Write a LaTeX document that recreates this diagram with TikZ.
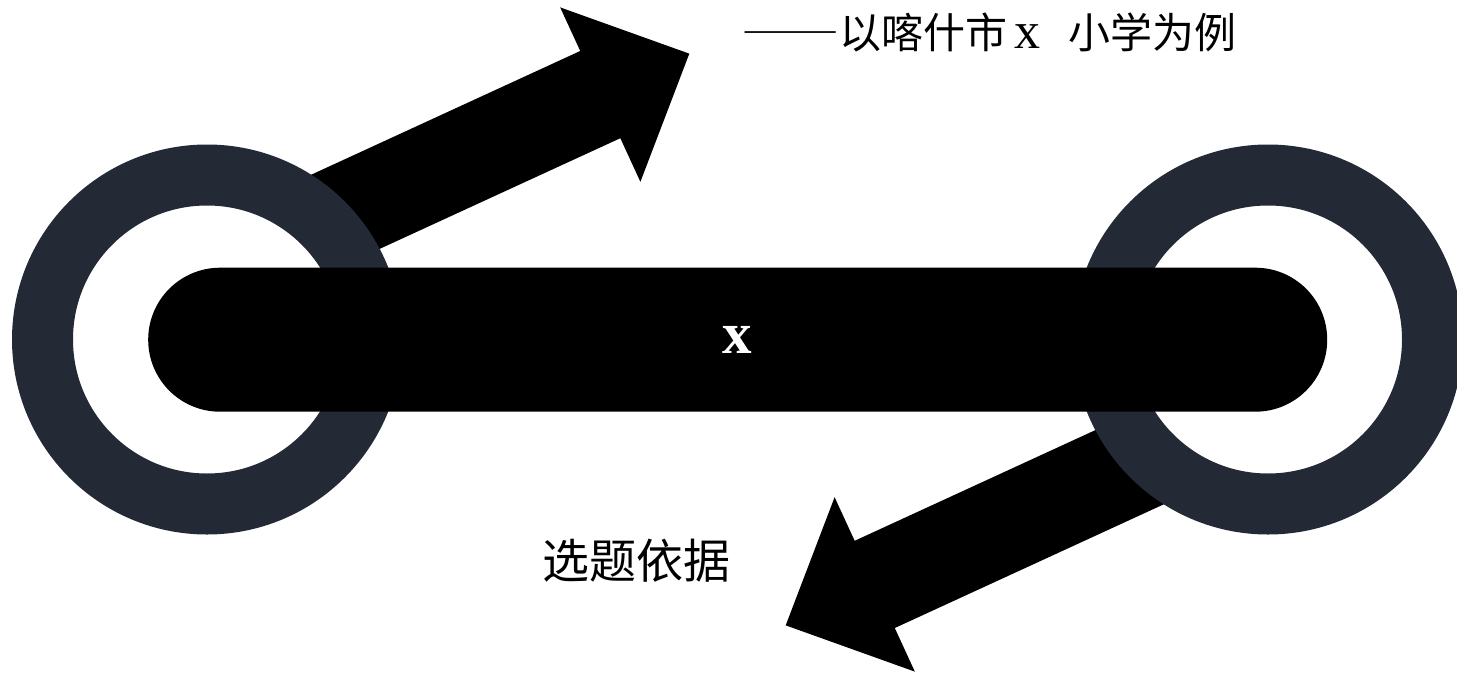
\documentclass[tikz,border=0pt]{standalone}
\usepackage{fontspec}
\newfontfamily\cjk{Noto Sans CJK SC}
\newfontfamily\widecjk[RawFeature=+fwid]{Noto Sans CJK SC}
\newfontfamily\serifx{Liberation Serif}
\definecolor{ringgray}{RGB}{35,42,53}
\tikzset{
  ring/.style={circle, draw=ringgray, line width=61pt, minimum size=329pt, inner sep=0pt},
  bar/.style={fill=black, rounded corners=71.9pt, minimum width=1179pt, minimum height=144pt,
    inner sep=0pt, text=white, font=\serifx\bfseries\fontsize{59}{59}\selectfont},
  toplabel/.style={font=\cjk\fontsize{42}{42}\selectfont, anchor=west, inner sep=0pt},
  botlabel/.style={font=\cjk\fontsize{47}{47}\selectfont}
}
\begin{document}
\begin{tikzpicture}[x=1pt,y=-1pt]
  \useasboundingbox (0,0) rectangle (1457,675);
  \begin{scope}[shift={(335,216.6)},rotate=24.7]
    \fill (-20,-48) -- (292,-48) -- (292,-96) -- (390,0) -- (292,96) -- (292,48) -- (-20,48) -- cycle;
  \end{scope}
  \begin{scope}[shift={(1140,462.4)},rotate=204.7]
    \fill (-20,-48) -- (292,-48) -- (292,-96) -- (390,0) -- (292,96) -- (292,48) -- (-20,48) -- cycle;
  \end{scope}
  \draw
    (207,339.5) node[ring] (lring){}
    (1268,339.5) node[ring] (rring){}
    (737.7,339.7) node[bar] (axle){x}
    (741,32) node[toplabel] (title){\scalebox{1.17}[1]{\widecjk ——}以喀什市\,{\serifx\fontsize{52}{52}\selectfont x}\hspace{28pt}小学为例}
    (636.5,561) node[botlabel] (basis){选题依据};
\end{tikzpicture}
\end{document}
